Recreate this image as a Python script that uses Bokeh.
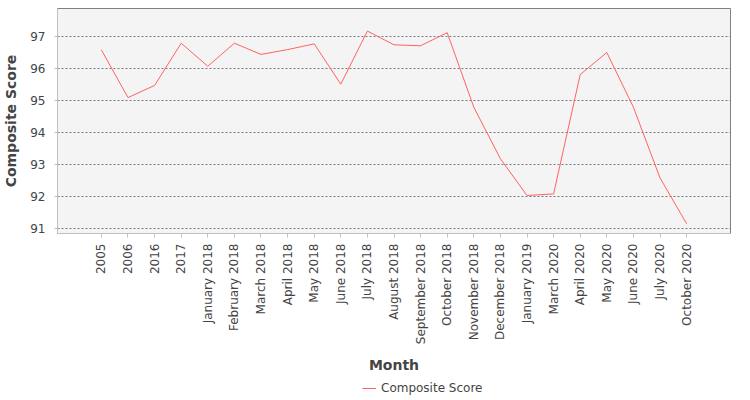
from bokeh.plotting import figure
from bokeh.layouts import column
from bokeh.models import Range1d, FactorRange, SingleIntervalTicker, Legend, LegendItem
from bokeh.embed import file_html
from bokeh.resources import INLINE
import math

# composite score per month
months = ['2005', '2006', '2016', '2017', 'January 2018', 'February 2018', 'March 2018',
          'April 2018', 'May 2018', 'June 2018', 'July 2018', 'August 2018', 'September 2018',
          'October 2018', 'November 2018', 'December 2018', 'January 2019', 'March 2020',
          'April 2020', 'May 2020', 'June 2020', 'July 2020', 'October 2020']
scores = [96.59, 95.10, 95.48, 96.80, 96.08, 96.80, 96.45,
          96.60, 96.78, 95.52, 97.18, 96.75, 96.72,
          97.13, 94.80, 93.19, 92.04, 92.09,
          95.82, 96.51, 94.80, 92.59, 91.16]

FONT = "DejaVu Sans"
TXT = "#444444"
RED = "#ff6262"

p = figure(width=734, height=378, x_range=FactorRange(*months, range_padding=0.1),
           y_range=Range1d(90.853, 97.885), output_backend="svg", toolbar_location=None,
           x_axis_label="Month", y_axis_label="Composite Score",
           min_border_left=51, min_border_right=4, min_border_top=8, min_border_bottom=145)

p.background_fill_color = "#f4f4f4"
p.border_fill_color = "white"
p.outline_line_color = "#808080"
p.outline_line_width = 1

p.line(months, scores, line_color=RED, line_width=1)

p.yaxis.ticker = SingleIntervalTicker(interval=1)
p.xgrid.grid_line_color = None
p.ygrid.grid_line_color = "#7a7a7a"
p.ygrid.grid_line_dash = "2 2"
p.ygrid.grid_line_width = 1

for ax in (p.xaxis, p.yaxis):
    ax.axis_line_color = "#c0c0c0"
    ax.major_tick_line_color = "#c0c0c0"
    ax.minor_tick_line_color = None
    ax.major_tick_in = 0
    ax.major_label_text_font = FONT
    ax.major_label_text_font_size = "12px"
    ax.major_label_text_color = TXT
    ax.axis_label_text_font = FONT
    ax.axis_label_text_font_size = "14px"
    ax.axis_label_text_font_style = "bold"
    ax.axis_label_text_color = TXT

p.xaxis.major_label_orientation = math.pi / 2
p.xaxis.major_tick_out = 4
p.xaxis.major_label_standoff = 6
p.xaxis.axis_label_standoff = 10
p.yaxis.major_tick_out = 3
p.yaxis.major_label_standoff = 8
p.yaxis.axis_label_standoff = 8

# legend strip under the chart: same series, drawn outside the strip's y range
leg = figure(width=734, height=22, x_range=FactorRange(*months), y_range=Range1d(0, 1),
             output_backend="svg", toolbar_location=None,
             x_axis_location=None, y_axis_location=None,
             min_border_left=0, min_border_right=0, min_border_top=0, min_border_bottom=0)
leg.outline_line_color = None
leg.background_fill_color = "white"
leg.grid.grid_line_color = None
lr = leg.line(months, scores, line_color=RED, line_width=1)

legend = Legend(items=[LegendItem(label="Composite Score", renderers=[lr])],
                location=(305, 5))
legend.label_text_font = FONT
legend.label_text_font_size = "12px"
legend.label_text_color = TXT
legend.glyph_width = 14
legend.glyph_height = 14
legend.label_height = 14
legend.label_standoff = 5
legend.padding = 0
legend.margin = 0
legend.border_line_color = None
legend.background_fill_alpha = 0
leg.add_layout(legend)

layout = column(p, leg, spacing=0)

open("out.html", "w").write(file_html(layout, INLINE))
